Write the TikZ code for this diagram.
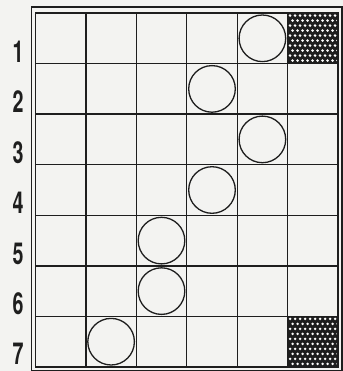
\documentclass[tikz,border=0pt]{standalone}
\usepackage{fontspec}
\usepackage{tikz}
\newfontfamily\rowfont{TeX Gyre Heros}
\definecolor{BoardInk}{HTML}{1E1E1E}
\definecolor{BoardPaper}{HTML}{F3F3F1}
\tikzset{
  gridline/.style={BoardInk,line width=0.065cm},
  counter/.style={BoardInk,line width=0.065cm,fill=BoardPaper},
  rowlabel/.style={anchor=base,xscale=0.65,inner sep=0pt,BoardInk,
    font=\rowfont\bfseries\fontsize{43}{43}\selectfont}
}

\begin{document}
\begin{tikzpicture}[x=0.05cm,y=-0.05cm]
\path[use as bounding box,fill=BoardPaper] (0,0) rectangle (343,371);
% shaded cells
\foreach \sx/\sy in {287.6/13.0,287.6/316.4}{
  \fill[BoardInk] (\sx,\sy) rectangle ++(50.4,50.6);
  \begin{scope}
    \clip (\sx,\sy) rectangle ++(50.4,50.6);
    \foreach \j in {0,...,9}
      \foreach \i in {0,...,10}
        \fill[white] ({\sx+2.5+5*\i+2.5*mod(\j,2)},{\sy+2.5+5*\j}) circle (1.4);
  \end{scope}
}
% grid
\foreach \gx in {85.9,136.3,186.8,237.2,287.6}
  \draw[gridline] (\gx,13.0) -- (\gx,367.0);
\foreach \gy in {63.6,114.1,164.7,215.3,265.9,316.4}
  \draw[gridline] (35.5,\gy) -- (338.0,\gy);
\draw[gridline] (35.5,13.0) rectangle (338.0,367.0);
\draw[gridline] (31.5,7.0) rectangle (342.0,370.5);
% counters
\draw[counter] (262.4,38.3) circle (23.3);
\draw[counter] (212.0,88.9) circle (23.3);
\draw[counter] (262.4,139.4) circle (23.3);
\draw[counter] (212.0,190.0) circle (23.3);
\draw[counter] (161.5,240.6) circle (23.3);
\draw[counter] (161.5,291.1) circle (23.3);
\draw[counter] (111.1,341.7) circle (23.3);
% row numbers
\node[rowlabel] (row1) at (18,62.0) {1};
\node[rowlabel] (row2) at (18,112.5) {2};
\node[rowlabel] (row3) at (18,163.1) {3};
\node[rowlabel] (row4) at (18,213.7) {4};
\node[rowlabel] (row5) at (18,264.3) {5};
\node[rowlabel] (row6) at (18,314.8) {6};
\node[rowlabel] (row7) at (18,364.4) {7};
\end{tikzpicture}
\end{document}
